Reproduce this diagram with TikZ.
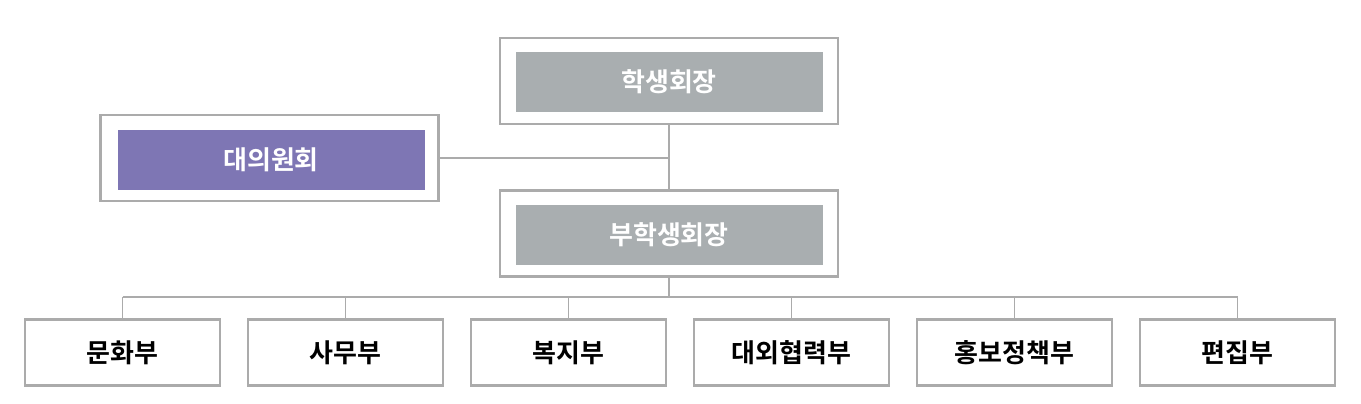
\documentclass[tikz,border=0pt]{standalone}
\usepackage{fontspec}
\setmainfont{Noto Sans CJK KR}[BoldFont={Noto Sans CJK KR Bold}]
\usetikzlibrary{positioning,calc}
\definecolor{boxgray}{HTML}{A9AEB0}
\definecolor{boxline}{HTML}{ABABAB}
\definecolor{council}{HTML}{7E76B4}
\tikzset{
  frame/.style={draw=boxline,line width=1.2pt,fill=white,minimum width=169pt,minimum height=43pt,inner sep=0pt},
  inner/.style={fill=#1,text=white,font=\bfseries\fontsize{13}{15}\selectfont,minimum width=153.5pt,minimum height=30pt,inner sep=0pt},
  dept/.style={draw=boxline,line width=1.2pt,fill=white,font=\bfseries\fontsize{13}{15}\selectfont,minimum width=97.5pt,minimum height=33pt,inner sep=0pt},
  link/.style={draw=boxline,line width=0.6pt}
}
\begin{document}
\begin{tikzpicture}[x=0.5pt,y=-0.5pt]
\useasboundingbox (0,0) rectangle (1361,403);
% upper levels
\node[frame] (pres) at (669,81) {};
\node[inner=boxgray] (presin) at (669,82) {학생회장};
\node[frame] (cnc) at (269.5,158) {};
\node[inner=council] (cncin) at (271,159.5) {대의원회};
\node[frame] (vice) at (669,233.5) {};
\node[inner=boxgray] (vicein) at (669,234.5) {부학생회장};
\draw[link] (pres.south) -- (vice.north);
\draw[link] (cnc.east) -- (cnc.east -| pres.south);
% departments
\coordinate (bus) at (669,297);
\draw[link] (vice.south) -- (bus);
\foreach \name/\label [count=\i from 0] in {d1/문화부,d2/사무부,d3/복지부,d4/대외협력부,d5/홍보정책부,d6/편집부}{
  \node[dept] (\name) at ({122.5+223*\i},352.5) {\label};
  \draw[link] (\name.north) -- (\name.north |- bus);
}
\draw[link] (d1.north |- bus) -- (d6.north |- bus);
\end{tikzpicture}
\end{document}
